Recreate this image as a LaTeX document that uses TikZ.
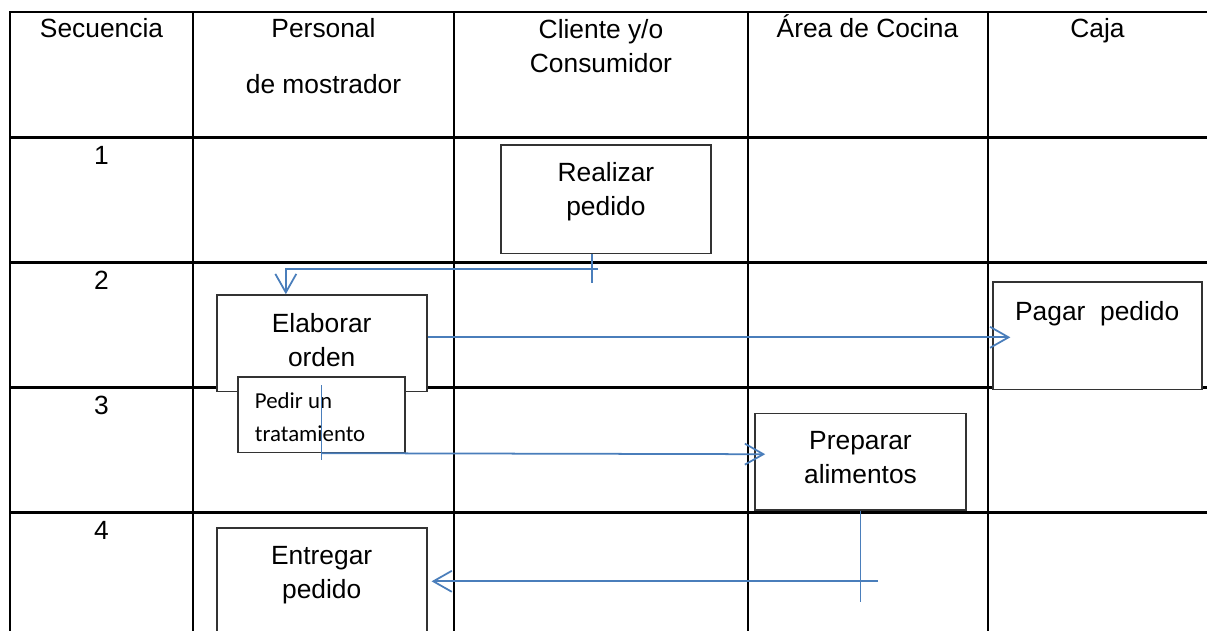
\documentclass[tikz,border=0pt]{standalone}
\usepackage{fontspec}
\setmainfont{Liberation Sans}
\newfontfamily\carlito{Carlito}
\usetikzlibrary{positioning,arrows.meta}
\definecolor{flowblue}{HTML}{4A7EBB}
\tikzset{
  grid line/.style={line width=1.4pt, line cap=rect},
  box/.style={draw=black!80, line width=1pt, fill=white, inner sep=0pt},
  lbl/.style={inner sep=0pt, font=\fontsize{15}{19.4}\selectfont, align=center},
  small lbl/.style={inner sep=0pt, font=\carlito\fontsize{13}{18.7}\selectfont, align=left},
  link/.style={draw=flowblue, line width=1pt},
  flow/.style={link, -{Straight Barb[length=0.37cm,width=0.42cm]}},
}
\begin{document}
\begin{tikzpicture}[x=0.02cm, y=-0.02cm]
\useasboundingbox (0,0) rectangle (1207,630);

\foreach \x in {10,193,454,748,988}
  \draw[grid line] (\x,12) -- (\x,630);
\foreach \y in {12,137.5,262.7,387.5,512.7}
  \draw[grid line] (10,\y) -- (1207,\y);

\node[lbl, anchor=base] (seq) at (101.5,37) {Secuencia};
\node[lbl, anchor=base] (pers1) at (323.5,37) {Personal};
\node[lbl, anchor=base] (pers2) at (323.5,93) {de mostrador};
\node[lbl, anchor=north] (cli) at (601,19) {Cliente y/o\\Consumidor};
\node[lbl, anchor=base] (coc) at (867.5,37) {Área de Cocina};
\node[lbl, anchor=base] (caja) at (1097.5,37) {Caja};

\foreach \n/\y in {1/164,2/289,3/414,4/539}
  \node[lbl, anchor=base] (n\n) at (101.5,\y) {\n};

\node[box, minimum width=4.21cm, minimum height=2.17cm] (realizar) at (605.9,199.2) {};
\node[box, minimum width=4.2cm, minimum height=1.93cm] (elaborar) at (321.7,343.3) {};
\node[box, minimum width=3.34cm, minimum height=1.51cm] (pedir) at (321.5,414.8) {};
\node[box, minimum width=4.18cm, minimum height=2.15cm] (pagar) at (1097.2,335.8) {};
\node[box, minimum width=4.22cm, minimum height=1.93cm] (preparar) at (860.5,461.7) {};
\node[box, minimum width=4.2cm, minimum height=2.24cm] (entregar) at (321.7,584.2) {};

\node[lbl, below=0.36cm of realizar.north] (realizarT) {Realizar\\pedido};
\node[lbl, below=0.37cm of elaborar.north] (elaborarT) {Elaborar\\orden};
\node[small lbl, below right=0.33cm and 0.35cm of pedir.north west] (pedirT) {Pedir un\\tratamiento};
\node[lbl, below=0.39cm of pagar.north] (pagarT) {Pagar\ \ pedido};
\node[lbl, below=0.37cm of preparar.north] (prepararT) {Preparar\\alimentos};
\node[lbl, below=0.37cm of entregar.north] (entregarT) {Entregar\\pedido};

\coordinate (c1) at (591.7,283.3);
\coordinate (c2) at (598.3,269.3);
\draw[link] (realizar.south -| c1) -- (c1);
\draw[flow] (c2) -| ([xshift=1.4cm]elaborar.north west);

\draw[flow] ([yshift=0.12cm]elaborar.east) -- ([xshift=0.37cm,yshift=0.12cm]elaborar.east -| pagar.west);

\draw[link] ([yshift=-0.18cm]pedir.north) -- ([yshift=-1.68cm]pedir.north);
\draw[flow] ([yshift=-1.54cm]pedir.north) -- ([xshift=0.22cm,yshift=0.15cm]preparar.west);

\coordinate (d4) at ([xshift=0.35cm,yshift=-1.41cm]preparar.south);
\draw[link] (preparar.south) -- ([yshift=-1.82cm]preparar.south);
\draw[flow] (d4) -- ([xshift=0.08cm]entregar.east |- d4);
\end{tikzpicture}
\end{document}
